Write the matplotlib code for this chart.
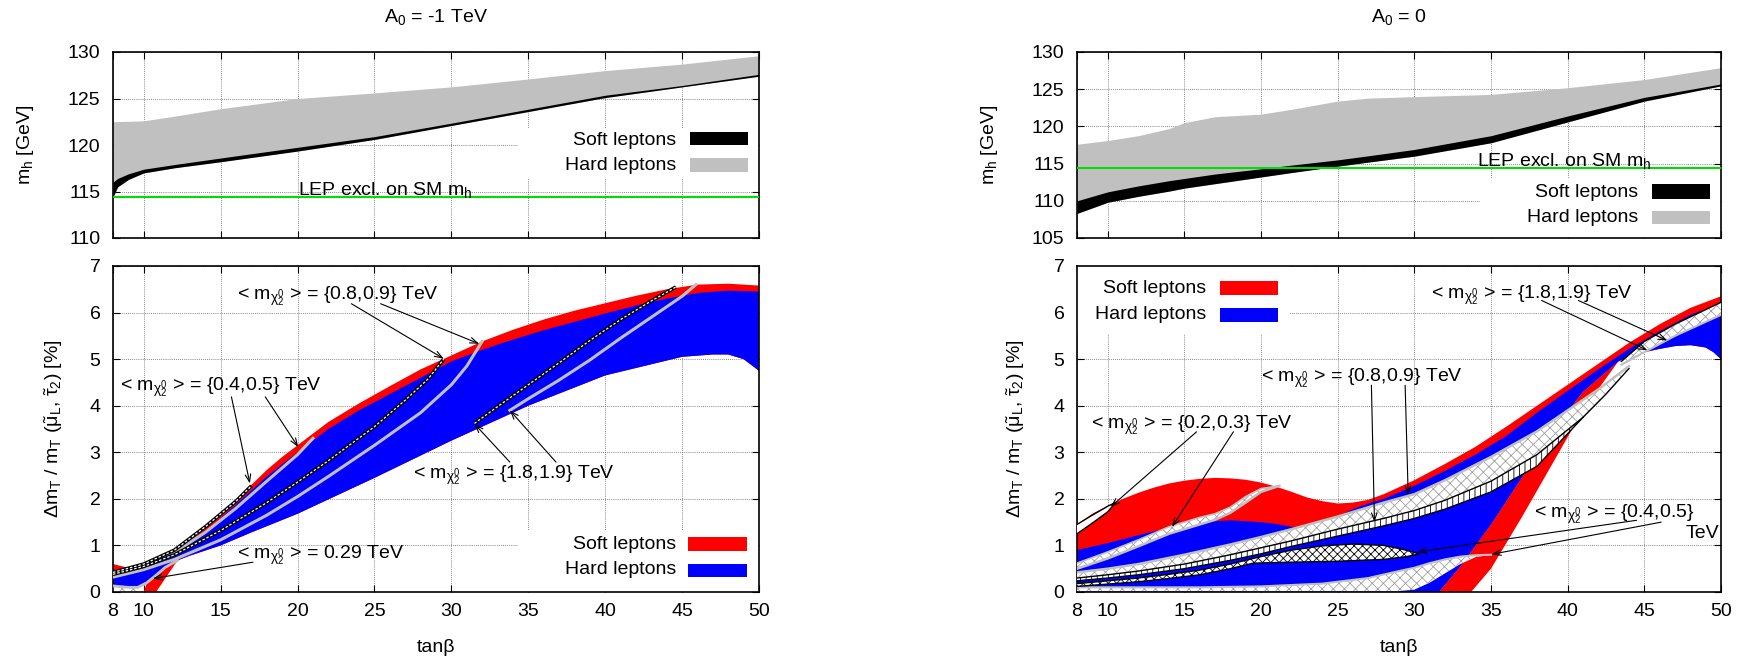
import numpy as np
import matplotlib
matplotlib.use('Agg')
import matplotlib.pyplot as plt
from matplotlib.patches import Rectangle

plt.rcParams['font.family'] = ['Liberation Sans', 'DejaVu Sans']
plt.rcParams['mathtext.fontset'] = 'custom'
plt.rcParams['mathtext.rm'] = 'Liberation Sans'
plt.rcParams['mathtext.it'] = 'Liberation Sans'
plt.rcParams['mathtext.bf'] = 'Liberation Sans:bold'
plt.rcParams['hatch.linewidth'] = 0.6

RED, BLUE, LGRAY, GREEN = '#ff0000', '#0000ff', '#c0c0c0', '#00dd00'
FS = 14

# ---------------- data ----------------
XTICKS = [8, 10, 15, 20, 25, 30, 35, 40, 45, 50]
LEP_MH = 114.4

# Top-left (A0 = -1 TeV) m_h
tbL = [8, 8.3, 9, 10, 12, 15, 20, 25, 30, 35, 40, 45, 50]
hard_top_L = [122.5, 122.52, 122.55, 122.6, 123.1, 123.9, 125.0, 125.6, 126.25, 127.1, 128.0, 128.7, 129.6]
soft_hi_L = [116.0, 116.4, 116.9, 117.4, 117.9, 118.6, 119.75, 120.9, 122.35, 123.85, 125.35, 126.4, 127.6]
soft_lo_L = [114.4, 115.5, 116.3, 117.0, 117.55, 118.2, 119.35, 120.6, 122.1, 123.6, 125.1, 126.25, 127.4]

# Top-right (A0 = 0) m_h
tbR = [8, 10, 12, 14, 15, 17, 20, 22, 25, 27, 30, 35, 40, 45, 50]
hard_top_R = [117.6, 118.1, 118.75, 119.7, 120.5, 121.3, 121.65, 122.3, 123.4, 123.8, 124.0, 124.3, 125.2, 126.3, 127.9]
soft_hi_R = [110.0, 111.2, 112.0, 112.7, 113.0, 113.6, 114.3, 114.8, 115.5, 116.05, 116.9, 118.75, 121.4, 123.9, 125.7]
soft_lo_R = [108.3, 109.8, 110.6, 111.3, 111.7, 112.3, 113.2, 113.8, 114.65, 115.2, 116.0, 117.8, 120.6, 123.4, 125.45]

# Bottom-left (A0 = -1 TeV) mass splitting
red_top_Lx = [8, 9, 10, 11, 12, 13, 14, 15, 16, 17, 18, 19, 20, 22, 24, 26, 28, 30, 32, 34, 36, 38, 40, 42, 44, 46, 48, 50]
red_top_Ly = [0.6, 0.52, 0.55, 0.68, 0.88, 1.1, 1.37, 1.67, 1.98, 2.3, 2.62, 2.9, 3.15, 3.65, 4.05, 4.42, 4.78, 5.08, 5.38, 5.63, 5.85, 6.04, 6.2, 6.36, 6.5, 6.6, 6.62, 6.58]
blue_top_Lx = [8, 9, 10, 11, 12, 14, 16, 18, 20, 22, 24, 26, 28, 30, 32, 34, 36, 38, 40, 42, 44, 46, 48, 50]
blue_top_Ly = [0.45, 0.45, 0.5, 0.65, 0.85, 1.3, 1.88, 2.48, 3.0, 3.5, 3.9, 4.25, 4.6, 4.95, 5.2, 5.42, 5.62, 5.8, 5.98, 6.15, 6.3, 6.42, 6.47, 6.45]
blue_low_Lx = [8, 9, 9.6, 10.2, 10.8, 11.4, 12.2, 13, 15, 17, 20, 25, 30, 35, 40, 45, 47, 48, 49, 50]
blue_low_Ly = [0.13, 0.1, 0.1, 0.2, 0.36, 0.53, 0.68, 0.78, 1.0, 1.28, 1.68, 2.45, 3.25, 4.0, 4.65, 5.05, 5.1, 5.1, 5.0, 4.75]
red_tri_x = [10.0, 10.8, 12.2, 11.4, 10.8, 10.2]
red_tri_y = [0.0, 0.0, 0.68, 0.53, 0.36, 0.2]
white_bl_x = [8, 8, 9, 9.6, 10.0]
white_bl_y = [0, 0.13, 0.1, 0.1, 0]
c029_x = [8, 9, 9.6, 10.2, 10.8, 11.4, 12.2]
c029_y = [0.13, 0.1, 0.1, 0.2, 0.36, 0.53, 0.68]
c08_x = [8, 10, 12, 15, 18, 20, 22, 25, 27, 28.5, 29.5]
c08_y = [0.38, 0.55, 0.8, 1.32, 1.92, 2.36, 2.82, 3.55, 4.12, 4.58, 5.0]
c09_x = [8, 10, 12, 15, 18, 20, 22, 25, 28, 30, 31, 32]
c09_y = [0.32, 0.48, 0.7, 1.12, 1.65, 2.05, 2.48, 3.15, 3.85, 4.45, 4.85, 5.38]
c04_x = [8, 10, 12, 14, 16, 17]
c04_y = [0.42, 0.6, 0.9, 1.4, 1.95, 2.28]
c05_x = [8, 10, 12, 14, 16, 18, 20, 21]
c05_y = [0.4, 0.55, 0.85, 1.28, 1.8, 2.38, 2.95, 3.3]
c18_x = [31.5, 33, 35, 37, 39, 41, 43, 44.6]
c18_y = [3.62, 3.98, 4.45, 4.92, 5.4, 5.85, 6.25, 6.55]
c19_x = [33.8, 35, 37, 39, 41, 43, 45, 45.9]
c19_y = [3.9, 4.15, 4.55, 4.98, 5.45, 5.9, 6.35, 6.6]

# Bottom-right (A0 = 0) mass splitting
red_top_Rx = [8, 9, 10, 11, 12, 13, 14, 15, 16, 17, 18, 19, 20, 21, 22, 23, 24, 25, 26, 27, 28, 30, 32, 34, 36, 38, 40, 42, 44, 46, 48, 50]
red_top_Ry = [1.45, 1.68, 1.85, 2.0, 2.13, 2.24, 2.33, 2.39, 2.43, 2.45, 2.44, 2.41, 2.35, 2.26, 2.15, 2.03, 1.95, 1.9, 1.92, 1.98, 2.1, 2.4, 2.75, 3.12, 3.55, 4.0, 4.45, 4.9, 5.35, 5.75, 6.1, 6.35]
blue_top_Rx = [8, 10, 12, 14, 16, 18, 20, 21, 22, 23, 24, 25, 26, 27, 28, 30, 32, 34, 36, 38, 40, 42, 44, 46, 48, 50]
blue_top_Ry = [0.9, 1.05, 1.22, 1.38, 1.5, 1.54, 1.5, 1.46, 1.4, 1.35, 1.45, 1.62, 1.78, 1.9, 2.0, 2.28, 2.6, 2.95, 3.35, 3.85, 4.32, 4.78, 5.22, 5.6, 5.95, 6.2]
red_band_Lx = [31.6, 33, 35, 37, 39, 41, 43.3]
red_band_Ly = [0, 0.55, 1.45, 2.45, 3.45, 4.3, 4.95]
red_band_Rx = [33.7, 35, 37, 39, 41, 43.3]
red_band_Ry = [0, 0.5, 1.6, 2.75, 3.9, 4.95]
blue_low_Rx = [43.3, 44, 45, 46, 47, 48, 49, 49.5, 50]
blue_low_Ry = [4.95, 5.05, 5.15, 5.22, 5.28, 5.3, 5.25, 5.15, 5.0]
# {0.2,0.3} band
p_x = [8, 10, 12, 14, 16, 17, 18, 19, 20, 21.2]
p_lo = [0.5, 0.72, 0.98, 1.25, 1.45, 1.55, 1.7, 1.92, 2.15, 2.28]
p_hi = [0.62, 0.86, 1.12, 1.4, 1.6, 1.68, 1.82, 2.05, 2.22, 2.28]
t_x = [8, 9, 10, 10.5]
t_lo = [1.25, 1.48, 1.72, 1.92]
t_hi = [1.45, 1.65, 1.84, 1.92]
# {0.8,0.9} bands
u1_x = [8, 10, 12, 15, 18, 20, 22, 25, 28, 30, 32, 35, 38, 40, 42, 44]
u1_y = [0.42, 0.5, 0.6, 0.8, 1.02, 1.18, 1.35, 1.62, 1.92, 2.1, 2.4, 2.9, 3.45, 3.9, 4.35, 4.85]
l1_x = [8, 10, 12, 15, 18, 20, 22, 25, 28, 30, 32, 35, 38, 41, 42.5, 44]
l1_y = [0.3, 0.37, 0.45, 0.6, 0.8, 0.95, 1.1, 1.35, 1.58, 1.75, 1.97, 2.38, 2.95, 3.75, 4.25, 4.8]
l2_x = [8, 10, 12, 15, 18, 20, 22, 25, 28, 30, 32, 35, 38, 41]
l2_y = [0.24, 0.3, 0.37, 0.5, 0.68, 0.82, 0.98, 1.2, 1.42, 1.58, 1.78, 2.15, 2.7, 3.75]
# {0.4,0.5} bands
b3u_x = [8, 10, 12, 14, 16, 18, 20, 22, 24, 26, 28, 29.2, 30.3]
b3u_y = [0.18, 0.24, 0.3, 0.38, 0.47, 0.6, 0.76, 0.9, 0.99, 1.03, 1.0, 0.92, 0.82]
b3l_x = [8, 10, 12, 14, 16, 18, 19.5, 22, 25, 28, 29.5, 30.3]
b3l_y = [0.12, 0.17, 0.22, 0.29, 0.37, 0.5, 0.62, 0.64, 0.66, 0.7, 0.76, 0.82]
b4u_x = [8, 12, 16, 20, 24, 27, 29, 30, 31, 32, 33, 34, 35]
b4u_y = [0.1, 0.1, 0.1, 0.12, 0.18, 0.3, 0.45, 0.52, 0.62, 0.7, 0.76, 0.79, 0.8]
b4l_x = [8, 20, 29, 30, 31, 32, 33, 34, 35]
b4l_y = [0.02, 0.02, 0.02, 0.05, 0.2, 0.4, 0.6, 0.75, 0.8]
# {1.8,1.9} band
b5_x = [43.5, 45, 47, 50]
b5_lo = [4.88, 5.15, 5.5, 5.95]
b5_hi = [4.95, 5.38, 5.75, 6.22]

# annotations: (text, x, y) and arrows (tail -> tip)
labels_L = [('< m$_{\\chi^0_2}$ > = {0.8,0.9} TeV', 16.07, 6.28),
            ('< m$_{\\chi^0_2}$ > = {0.4,0.5} TeV', 8.43, 4.33),
            ('< m$_{\\chi^0_2}$ > = {1.8,1.9} TeV', 27.5, 2.43),
            ('< m$_{\\chi^0_2}$ > = 0.29 TeV', 16.07, 0.72)]
arrows_L = [((23.5, 6.19), (29.5, 5.01)), ((25.4, 6.19), (31.8, 5.33)),
            ((15.7, 4.19), (16.9, 2.33)), ((17.9, 4.19), (20.05, 3.11)),
            ((33.8, 2.79), (31.5, 3.61)), ((36.8, 2.79), (33.8, 3.9)),
            ((17.1, 0.64), (10.6, 0.29))]
labels_R = [('< m$_{\\chi^0_2}$ > = {1.8,1.9} TeV', 31.06, 6.3),
            ('< m$_{\\chi^0_2}$ > = {0.8,0.9} TeV', 20.0, 4.51),
            ('< m$_{\\chi^0_2}$ > = {0.2,0.3} TeV', 8.9, 3.51),
            ('< m$_{\\chi^0_2}$ > = {0.4,0.5}', 37.8, 1.61)]
arrows_R = [((38.3, 6.26), (45.2, 5.19)), ((40.7, 6.26), (46.5, 5.4)),
            ((27.2, 4.44), (27.4, 1.5)), ((29.4, 4.44), (29.6, 2.08)),
            ((15.8, 3.44), (10.2, 1.83)), ((18.2, 3.44), (14.2, 1.4)),
            ((44.5, 1.54), (30.2, 0.86)), ((46.1, 1.5), (35.05, 0.81))]

# ---------------- figure ----------------
W, H = 1742, 661
fig = plt.figure(figsize=(W / 100, H / 100), dpi=100)

def fr(x0, top, w, h):
    return [x0 / W, 1 - (top + h) / H, w / W, h / H]

axTL = fig.add_axes(fr(113, 52, 646, 186))
axBL = fig.add_axes(fr(113, 266, 646, 326))
axTR = fig.add_axes(fr(1077, 52, 644, 186))
axBR = fig.add_axes(fr(1077, 266, 644, 326))


def setup(ax, ylim, yticks, xlabels):
    ax.set_xlim(8, 50)
    ax.set_ylim(*ylim)
    ax.set_xticks(XTICKS)
    ax.set_yticks(yticks)
    ax.grid(True, color='#606060', lw=0.6, ls=(0, (1, 1.5)))
    ax.set_axisbelow(True)
    ax.tick_params(direction='in', length=5, width=0.8, top=True, right=True,
                   labelsize=FS)
    ax.tick_params(axis='y', pad=9)
    ax.tick_params(axis='x', pad=8)
    if not xlabels:
        ax.tick_params(labelbottom=False)
    for s in ax.spines.values():
        s.set_linewidth(1.2)


def keybox(ax, x0, y0, x1, y1):
    ax.add_patch(Rectangle((x0, y0), x1 - x0, y1 - y0, transform=ax.transAxes,
                           fc='white', ec='none', zorder=0.8))


def key(ax, xr, bx0, bx1, entries):
    for label, col, yc, by0, by1 in entries:
        ax.text(xr, yc, label, transform=ax.transAxes, ha='right', va='center',
                fontsize=FS, zorder=10)
        ax.add_patch(Rectangle((bx0, by0), bx1 - bx0, by1 - by0, transform=ax.transAxes,
                               fc=col, ec='none', zorder=10))


def poly(ax, x1, y1, x2, y2, **kw):
    xs = np.concatenate([np.asarray(x1, float), np.asarray(x2, float)[::-1]])
    ys = np.concatenate([np.asarray(y1, float), np.asarray(y2, float)[::-1]])
    return ax.fill(xs, ys, **kw)


def arrow(ax, tail, tip):
    ax.annotate('', xy=tip, xytext=tail,
                arrowprops=dict(arrowstyle='->,head_length=0.55,head_width=0.2',
                                color='k', lw=0.8, shrinkA=0, shrinkB=0), zorder=9)


def striped(ax, x, y):
    ax.plot(x, y, color='black', lw=2.6, zorder=5, solid_capstyle='butt')
    ax.plot(x, y, color='white', lw=0.9, zorder=5.1, ls=(0, (2.0, 1.5)))

# ---- top-left ----
setup(axTL, (110, 130), [110, 115, 120, 125, 130], False)
keybox(axTL, 0.627, 0.3225, 1.0, 0.59)
axTL.fill_between(tbL, soft_lo_L, hard_top_L, color=LGRAY, lw=0, zorder=2)
axTL.fill_between(tbL, soft_lo_L, soft_hi_L, color='black', lw=0, zorder=3)
axTL.axhline(LEP_MH, color=GREEN, lw=1.5, zorder=4)
axTL.text(20.05, LEP_MH + 0.25, 'LEP excl. on SM m$_\\mathrm{h}$', fontsize=FS,
          ha='left', va='baseline', zorder=5)
key(axTL, 0.8715, 0.8932, 0.983, [('Soft leptons', 'black', 0.523, 0.50, 0.57),
                                   ('Hard leptons', LGRAY, 0.392, 0.355, 0.43)])

# ---- top-right ----
setup(axTR, (105, 130), [105, 110, 115, 120, 125, 130], False)
keybox(axTR, 0.626, 0.0, 1.0, 0.324)
axTR.fill_between(tbR, soft_lo_R, hard_top_R, color=LGRAY, lw=0, zorder=2)
axTR.fill_between(tbR, soft_lo_R, soft_hi_R, color='black', lw=0, zorder=3)
axTR.axhline(LEP_MH, color=GREEN, lw=1.5, zorder=4)
axTR.text(34.1, LEP_MH + 0.3, 'LEP excl. on SM m$_\\mathrm{h}$', fontsize=FS,
          ha='left', va='baseline', zorder=5)
key(axTR, 0.871, 0.893, 0.983, [('Soft leptons', 'black', 0.247, 0.212, 0.288),
                                ('Hard leptons', LGRAY, 0.109, 0.075, 0.145)])

# ---- bottom-left ----
setup(axBL, (0, 7), range(0, 8), True)
keybox(axBL, 0.627, 0.0, 1.0, 0.187)
poly(axBL, red_top_Lx, red_top_Ly, blue_low_Lx, blue_low_Ly, fc=RED, lw=0, zorder=1.5)
poly(axBL, blue_top_Lx, blue_top_Ly, blue_low_Lx, blue_low_Ly, fc=BLUE, lw=0, zorder=2)
axBL.fill(red_tri_x, red_tri_y, fc=RED, lw=0, zorder=2.2)
axBL.fill(white_bl_x, white_bl_y, fc='white', ec='#a0a0a0', hatch='xxx', lw=0, zorder=2.2)
axBL.plot(c029_x, c029_y, color=LGRAY, lw=2.0, zorder=4)
axBL.plot(c09_x, c09_y, color=LGRAY, lw=2.2, zorder=4)
axBL.plot(c05_x, c05_y, color=LGRAY, lw=2.2, zorder=4)
axBL.plot(c19_x, c19_y, color=LGRAY, lw=2.2, zorder=4)
striped(axBL, c08_x, c08_y)
striped(axBL, c04_x, c04_y)
striped(axBL, c18_x, c18_y)
for t, x, y in labels_L:
    axBL.text(x, y, t, fontsize=FS, ha='left', va='baseline', zorder=8)
for tail, tip in arrows_L:
    arrow(axBL, tail, tip)
key(axBL, 0.8715, 0.890, 0.981, [('Soft leptons', RED, 0.147, 0.126, 0.169),
                                 ('Hard leptons', BLUE, 0.0675, 0.046, 0.086)])

# ---- bottom-right ----
setup(axBR, (0, 7), range(0, 8), True)
keybox(axBR, 0.0, 0.792, 0.329, 1.0)
low_x = np.concatenate([[8.0], red_band_Lx, blue_low_Rx[1:]])
low_y = np.concatenate([[0.0], red_band_Ly, blue_low_Ry[1:]])
poly(axBR, red_top_Rx, red_top_Ry, low_x, low_y, fc=RED, lw=0, zorder=1.5)
poly(axBR, red_band_Lx, red_band_Ly, red_band_Rx, red_band_Ry, fc=RED, lw=0, zorder=1.6)
poly(axBR, blue_top_Rx, blue_top_Ry, low_x, low_y, fc=BLUE, lw=0, zorder=2)
# bands
poly(axBR, b4u_x, b4u_y, b4l_x, b4l_y, fc='white', ec='#a0a0a0', hatch='xxx', lw=0, zorder=3)
poly(axBR, b3u_x, b3u_y, b3l_x, b3l_y, fc='white', ec='black', hatch='xxxx', lw=0, zorder=3)
poly(axBR, l1_x[:14], l1_y[:14], l2_x, l2_y, fc='white', ec='black', hatch='|||', lw=0, zorder=3)
poly(axBR, u1_x, u1_y, l1_x, l1_y, fc='white', ec='#a0a0a0', hatch='xxx', lw=0, zorder=3)
poly(axBR, p_x, p_hi, p_x, p_lo, fc='white', ec='#a0a0a0', hatch='xxx', lw=0, zorder=3)
poly(axBR, t_x, t_hi, t_x, t_lo, fc='white', lw=0, zorder=3)
poly(axBR, b5_x, b5_hi, b5_x, b5_lo, fc='white', ec='#a0a0a0', hatch='xxx', lw=0, zorder=3)
# outlines
axBR.plot(b4u_x, b4u_y, color=LGRAY, lw=1.5, zorder=4)
axBR.plot(b3u_x, b3u_y, color='black', lw=1.0, zorder=4)
axBR.plot(b3l_x, b3l_y, color='black', lw=1.0, zorder=4)
axBR.plot(l2_x, l2_y, color='black', lw=1.0, zorder=4)
axBR.plot(l1_x, l1_y, color='black', lw=1.0, zorder=4)
axBR.plot(u1_x, u1_y, color=LGRAY, lw=1.8, zorder=4)
axBR.plot(p_x, p_lo, color=LGRAY, lw=1.8, zorder=4)
axBR.plot(p_x, p_hi, color=LGRAY, lw=1.2, zorder=4)
axBR.plot(t_x, t_hi, color='black', lw=1.0, zorder=4)
axBR.plot(t_x, t_lo, color='black', lw=1.0, zorder=4)
axBR.plot(b5_x, b5_lo, color=LGRAY, lw=1.5, zorder=4)
axBR.plot(b5_x, b5_hi, color='black', lw=1.0, zorder=4)
for t, x, y in labels_R:
    axBR.text(x, y, t, fontsize=FS, ha='left', va='baseline', zorder=8)
axBR.text(49.9, 1.15, 'TeV', fontsize=FS, ha='right', va='baseline', zorder=8)
for tail, tip in arrows_R:
    arrow(axBR, tail, tip)
key(axBR, 0.2, 0.222, 0.312, [('Soft leptons', RED, 0.930, 0.911, 0.954),
                              ('Hard leptons', BLUE, 0.850, 0.828, 0.871)])

# ---- titles & axis labels ----
fig.text(436 / W, 1 - 17 / H, 'A$_0$ = -1 TeV', ha='center', va='center', fontsize=FS)
fig.text(1399 / W, 1 - 17 / H, 'A$_0$ = 0', ha='center', va='center', fontsize=FS)
ylab_top = 'm$_\\mathrm{h}$ [GeV]'
ylab_bot = '$\\Delta$m$_\\mathrm{T}$ / m$_\\mathrm{T}$ ($\\tilde{\\mu}_\\mathrm{L}$, $\\tilde{\\tau}_2$) [%]'
fig.text(25.5 / W, 1 - 145 / H, ylab_top, rotation=90, ha='center', va='center', fontsize=FS)
fig.text(54 / W, 1 - 429 / H, ylab_bot, rotation=90, ha='center', va='center', fontsize=FS)
fig.text(989 / W, 1 - 145 / H, ylab_top, rotation=90, ha='center', va='center', fontsize=FS)
fig.text(1015.5 / W, 1 - 429 / H, ylab_bot, rotation=90, ha='center', va='center', fontsize=FS)
fig.text(436 / W, 1 - 647 / H, 'tanβ', ha='center', va='center', fontsize=FS)
fig.text(1399 / W, 1 - 647 / H, 'tanβ', ha='center', va='center', fontsize=FS)

fig.savefig('out.png', dpi=100)
